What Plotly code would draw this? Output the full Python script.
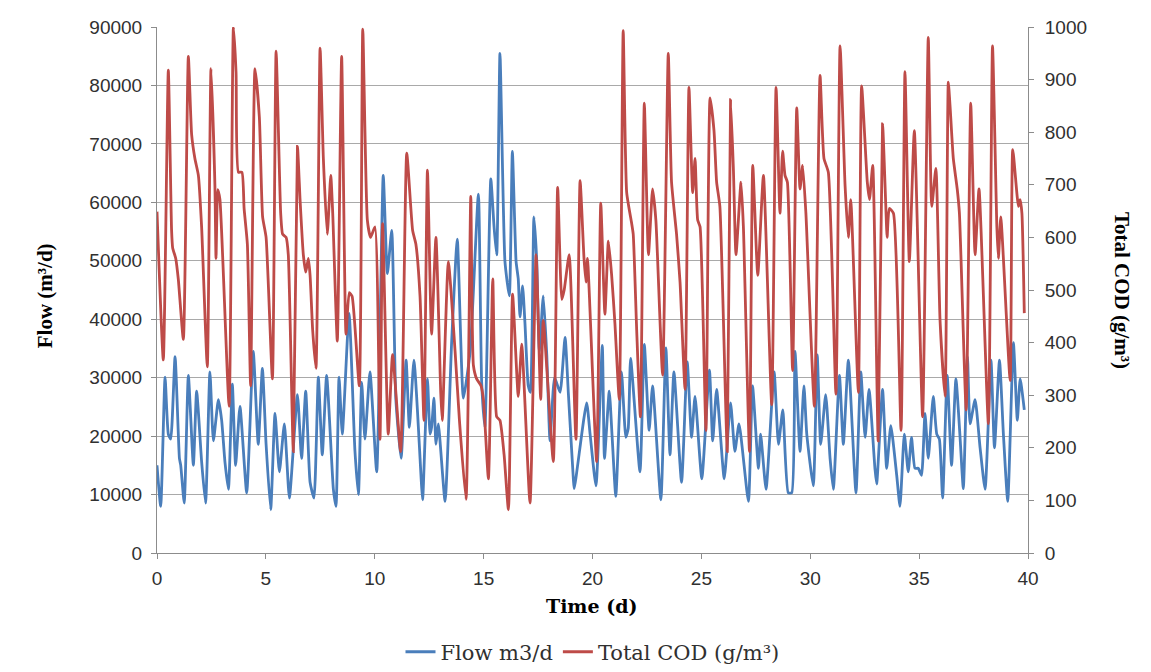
import plotly.graph_objects as go

# values (time in days)
flow_day = [0.0, 0.17, 0.37, 0.52, 0.63, 0.83, 1.03, 1.09, 1.25, 1.44, 1.67, 1.82, 2.05, 2.23, 2.43, 2.59,
            2.82, 2.97, 3.12, 3.28, 3.46, 3.61, 3.81, 4.12, 4.42, 4.65, 4.84, 5.01, 5.22, 5.42, 5.62, 5.85,
            6.08, 6.45, 6.64, 6.83, 7.03, 7.21, 7.41, 7.59, 7.79, 8.10, 8.22, 8.36, 8.51, 8.82, 9.09, 9.25,
            9.40, 9.55, 9.78, 10.09, 10.39, 10.58, 10.78, 10.97, 11.21, 11.44, 11.59, 11.80, 12.15, 12.20,
            12.42, 12.54, 12.61, 12.72, 12.81, 12.92, 13.23, 13.53, 13.79, 14.07, 14.38, 14.76, 14.91, 15.06,
            15.33, 15.48, 15.60, 15.75, 15.98, 16.18, 16.32, 16.49, 16.59, 16.67, 16.79, 16.90, 17.05, 17.15,
            17.31, 17.44, 17.56, 17.74, 17.90, 18.05, 18.26, 18.51, 18.74, 18.89, 19.12, 19.16, 19.73, 19.89,
            20.16, 20.45, 20.55, 20.77, 20.90, 21.07, 21.33, 21.53, 21.64, 21.75, 22.18, 22.38, 22.60, 22.76,
            23.14, 23.37, 23.56, 23.74, 24.09, 24.35, 24.55, 24.71, 25.02, 25.37, 25.52, 25.70, 26.05, 26.34,
            26.54, 26.73, 27.16, 27.35, 27.62, 27.72, 27.97, 28.34, 28.54, 28.74, 28.99, 29.15, 29.30, 29.53,
            29.71, 29.84, 30.14, 30.32, 30.48, 30.71, 30.91, 31.06, 31.34, 31.52, 31.75, 32.10, 32.32, 32.52,
            32.70, 32.97, 33.05, 33.32, 33.51, 33.70, 33.97, 34.12, 34.32, 34.50, 34.65, 34.81, 34.96, 35.11,
            35.27, 35.42, 35.65, 35.81, 35.93, 36.08, 36.29, 36.49, 36.69, 36.88, 37.03, 37.22, 37.34, 37.57,
            37.80, 38.03, 38.30, 38.46, 38.69, 38.87, 39.07, 39.33, 39.51, 39.64, 39.83]
flow = [15000, 8000, 30100, 20350, 19500, 33600, 16200, 15000, 8550, 30400, 15000, 27700, 15600, 8550, 31000, 19200,
        26250, 22700, 15600, 10900, 28900, 15000, 25100, 10300, 34500, 18600, 31600, 18600, 7400, 23900, 13900, 22100,
        9400, 27100, 16200, 27700, 12100, 9400, 30100, 16800, 30400, 10900, 8000, 30100, 20350, 41000, 17500, 10000,
        29200, 19500, 31000, 13900, 64600, 47800, 55200, 26250, 16200, 33000, 21500, 33000, 11500, 9100,
        29800, 20350, 21500, 26500, 18600, 22100, 8850, 36000, 53700, 26500, 34500, 61400, 29200, 21500,
        64000, 55750, 51000, 85500, 49850, 44000, 68700, 49900, 46900, 40400, 45700, 39200, 28600, 27500,
        57500, 49900, 34500, 44000, 33900, 19200, 30000, 27500, 36900, 27400, 12700, 11000, 25700, 20350,
        11500, 35500, 16200, 27700, 20000, 9700, 31000, 19800, 21300, 33300, 13900, 35700, 21000, 28600,
        9100, 35100, 16800, 31000, 12100, 32700, 19800, 26800, 12700, 31300, 19200, 28000, 12700, 25700,
        17400, 22100, 8850, 28600, 14500, 20350, 10900, 31000, 18600, 24500, 10300, 10300, 34500, 17400,
        28600, 20350, 11500, 33900, 18600, 27100, 16200, 10900, 30400, 18600, 33000, 10300, 31000, 19800,
        28000, 14500, 11800, 28000, 14500, 21800, 13300, 8000, 20350, 13900, 19800, 14500, 14500, 13300,
        23900, 16200, 26800, 20350, 19500, 9400, 30400, 15000, 29800, 19800, 11000, 33600, 22100, 26250,
        18000, 10900, 33000, 18000, 33000, 20350, 8850, 36000, 22700, 29800, 24500]

cod_day = [0.0, 0.29, 0.52, 0.67, 0.72, 0.86, 0.98, 1.21, 1.44, 1.59, 1.74, 1.90, 2.05, 2.31, 2.48, 2.66,
           2.71, 2.79, 2.89, 3.31, 3.51, 3.63, 3.74, 3.90, 4.00, 4.15, 4.30, 4.50, 4.70, 4.85, 5.01, 5.30,
           5.47, 5.68, 5.77, 5.93, 6.03, 6.26, 6.45, 6.57, 6.72, 6.83, 6.95, 7.03, 7.15, 7.30, 7.49, 7.64,
           7.82, 7.98, 8.07, 8.28, 8.48, 8.68, 8.83, 8.96, 9.29, 9.45, 9.66, 9.81, 10.01, 10.24, 10.36, 10.62,
           10.82, 11.19, 11.47, 11.74, 11.89, 12.08, 12.26, 12.42, 12.61, 12.81, 13.03, 13.10, 13.38, 13.69,
           13.89, 14.19, 14.41, 14.53, 14.68, 14.88, 14.99, 15.22, 15.42, 15.60, 15.75, 15.94, 16.14, 16.33,
           16.59, 16.75, 17.13, 17.41, 17.62, 17.74, 18.20, 18.40, 18.59, 18.70, 18.93, 19.24, 19.43, 19.61,
           19.70, 19.77, 20.19, 20.38, 20.57, 20.73, 20.88, 21.03, 21.23, 21.41, 21.57, 21.80, 21.87, 22.03,
           22.20, 22.38, 22.57, 22.76, 22.91, 23.22, 23.48, 23.63, 23.86, 24.02, 24.25, 24.43, 24.60, 24.71,
           24.83, 24.94, 25.21, 25.40, 25.58, 25.70, 25.85, 26.19, 26.34, 26.47, 26.59, 26.82, 26.93, 27.21,
           27.36, 27.59, 27.85, 28.23, 28.43, 28.61, 28.73, 28.84, 28.95, 29.19, 29.38, 29.53, 29.65, 29.80,
           30.19, 30.45, 30.63, 30.83, 31.18, 31.37, 31.60, 31.75, 31.86, 32.21, 32.36, 32.62, 32.72, 32.87,
           33.12, 33.32, 33.47, 33.53, 33.63, 33.82, 34.17, 34.35, 34.55, 34.78, 35.16, 35.42, 35.58, 35.77,
           35.96, 36.19, 36.34, 36.42, 36.57, 36.75, 36.85, 37.16, 37.37, 37.57, 37.75, 38.18, 38.37, 38.57,
           38.64, 38.75, 39.18, 39.30, 39.56, 39.64, 39.72, 39.83]
cod = [649, 367, 918, 613, 580, 560, 520, 406, 944, 796, 750, 718, 619, 354, 921, 698,
       560, 691, 672, 279, 1000, 914, 724, 724, 655, 587, 318, 921, 829, 639, 600, 331,
       954, 646, 606, 600, 567, 193, 773, 672, 567, 534, 560, 528, 423, 351, 960, 750,
       606, 718, 646, 403, 944, 416, 495, 488, 318, 996, 633, 600, 620, 216, 626, 226,
       377, 193, 760, 613, 587, 488, 252, 728, 416, 600, 305, 252, 554, 383,
       252, 102, 678, 357, 331, 318, 292, 141, 521, 259, 252, 187, 82, 492,
       298, 397, 95, 567, 292, 442, 174, 695, 482, 500, 567, 216, 708, 560,
       515, 560, 174, 665, 454, 593, 528, 436, 292, 993, 685, 626, 606, 423,
       259, 855, 567, 692, 633, 338, 950, 705, 606, 515, 311, 885, 685, 750,
       633, 620, 233, 865, 803, 705, 659, 193, 862, 731, 567, 705, 620, 193,
       737, 528, 718, 282, 885, 646, 764, 718, 705, 347, 846, 692, 737, 646,
       279, 908, 750, 724, 302, 964, 698, 600, 672, 305, 888, 705, 672, 737,
       213, 816, 659, 600, 655, 646, 233, 915, 554, 803, 259, 980, 659, 731,
       443, 298, 895, 850, 750, 692, 646, 272, 855, 567, 692, 246, 964, 620,
       560, 639, 328, 767, 659, 672, 646, 456]

x_ticks = [0, 5, 10, 15, 20, 25, 30, 35, 40]

tick_font = dict(family="Liberation Sans, Arial, sans-serif", size=19, color="#303030")
vtitle_font = dict(family="Liberation Serif, Times New Roman, serif", size=21, color="#000000")
htitle_font = dict(family="DejaVu Serif, serif", size=19, color="#000000")
axis_grey = "#8c8c8c"

fig = go.Figure()
fig.add_trace(go.Scatter(x=flow_day, y=flow, name="Flow m3/d", mode="lines",
                         line=dict(color="#4a7ebb", width=2.8, shape="spline", smoothing=0.5)))
fig.add_trace(go.Scatter(x=cod_day, y=cod, name="Total COD (g/m³)", mode="lines", yaxis="y2",
                         line=dict(color="#be4b48", width=2.8, shape="spline", smoothing=0.5)))

# page body adds an 8px offset, so the figure is drawn slightly smaller
fig.update_layout(
    width=1143, height=664,
    margin=dict(l=149, r=123, t=19, b=119, autoexpand=False),
    paper_bgcolor="white", plot_bgcolor="white",
    xaxis=dict(range=[0, 40], tickvals=x_ticks, ticks="outside", ticklen=5, tickcolor=axis_grey,
               showline=True, linecolor=axis_grey, linewidth=1, showgrid=False, zeroline=False,
               tickfont=tick_font, ticklabelstandoff=3),
    yaxis=dict(range=[0, 90000], dtick=10000, ticks="outside", ticklen=5, tickcolor=axis_grey,
               showline=True, linecolor=axis_grey, linewidth=1, showgrid=True, gridcolor="#a9a9a9",
               gridwidth=1, zeroline=False, tickfont=tick_font, tickformat="d", ticklabelstandoff=5),
    yaxis2=dict(range=[0, 1000], dtick=100, overlaying="y", side="right", ticks="outside", ticklen=5,
                tickcolor=axis_grey, showline=True, linecolor=axis_grey, linewidth=1, showgrid=False,
                zeroline=False, tickfont=tick_font, ticklabelstandoff=7),
    showlegend=True,
    legend=dict(orientation="h", x=0.5, xanchor="center", yref="container", y=0.03, yanchor="middle",
                font=dict(family="DejaVu Serif, serif", size=21, color="#303030"),
                itemwidth=30),
    annotations=[
        dict(text="<b>Flow (m³/d)</b>", xref="paper", yref="paper", x=-0.1286, y=0.49,
             xanchor="center", yanchor="middle", textangle=-90, showarrow=False, font=vtitle_font),
        dict(text="<b>Total COD (g/m³)</b>", xref="paper", yref="paper", x=1.108, y=0.5,
             xanchor="center", yanchor="middle", textangle=90, showarrow=False, font=vtitle_font),
        dict(text="<b>Time (d)</b>", xref="paper", yref="paper", x=0.4994, y=-0.1008,
             xanchor="center", yanchor="middle", showarrow=False, font=htitle_font),
    ],
)

fig.write_html("out.html")
